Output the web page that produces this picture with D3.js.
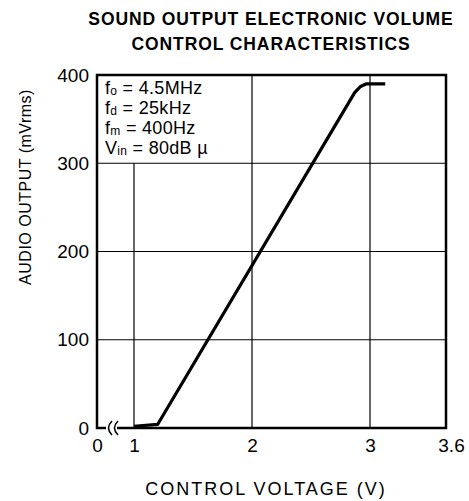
<!DOCTYPE html>
<html>
<head>
<meta charset="utf-8">
<script src="https://cdn.jsdelivr.net/npm/d3@7"></script>
<style>
  body { margin: 0; background: #fff; }
  svg { display: block; }
  text { font-family: "Liberation Sans", Arial, sans-serif; fill: #000; }
</style>
</head>
<body>
<svg width="469" height="501"></svg>
<script>
// Chart data
var titleLines = ["SOUND OUTPUT ELECTRONIC VOLUME", "CONTROL CHARACTERISTICS"],
	xTicks = [0, 1, 2, 3, 3.6],
	yTicks = [0, 100, 200, 300, 400],
	curveV = [1.0, 1.2, 2.87, 2.92, 2.97, 3.12],
	curveMv = [2, 4, 380, 387, 390, 390];

var legendRows = [
	{main: "f", sub: "o", rest: " = 4.5MHz"},
	{main: "f", sub: "d", rest: " = 25kHz"},
	{main: "f", sub: "m", rest: " = 400Hz"},
	{main: "V", sub: "in", rest: " = 80dB \u00b5"}
];

var font = "Liberation Sans, Arial, sans-serif";
var svg = d3.select("svg");

// Scales (x axis has a break between 0 and 1)
var x = d3.scaleLinear().domain([0, 1, 3, 3.6]).range([97, 134, 370, 446]),
	y = d3.scaleLinear().domain([0, 400]).range([428, 75]);

// Title
svg.selectAll(".title")
	.data(titleLines).enter()
	.append("text")
	.attr("class", "title")
	.attr("x", 271)
	.attr("y", function(d, i) { return 25 + i * 25; })
	.attr("text-anchor", "middle")
	.attr("font-family", font)
	.attr("font-size", 17.5)
	.attr("font-weight", "bold")
	.attr("letter-spacing", 0.9)
	.text(function(d) { return d; });

// Grid lines
var grid = svg.append("g").attr("stroke", "#000").attr("stroke-width", 1.2);

grid.selectAll(".hgrid")
	.data([100, 200, 300]).enter()
	.append("line")
	.attr("x1", x(0)).attr("x2", x(3.6))
	.attr("y1", function(d) { return y(d); })
	.attr("y2", function(d) { return y(d); });

grid.selectAll(".vgrid")
	.data([1, 2, 3]).enter()
	.append("line")
	.attr("x1", function(d) { return x(d); })
	.attr("x2", function(d) { return x(d); })
	.attr("y1", y(0))
	.attr("y2", function(d) { return d == 1 ? y(300) : y(400); });

// Legend text in the top left cell
var legend = svg.append("g");
legendRows.forEach(function(r, i) {
	var t = legend.append("text")
		.attr("x", 105)
		.attr("y", 94 + i * 20)
		.attr("font-family", font)
		.attr("font-size", 18)
		.attr("letter-spacing", 0.3);
	t.append("tspan").text(r.main);
	t.append("tspan").attr("font-size", 12).attr("dy", 1).text(r.sub);
	t.append("tspan").attr("dy", -1).text(r.rest);
});

// Curve
var line = d3.line()
	.x(function(d) { return x(d[0]); })
	.y(function(d) { return y(d[1]); });

svg.append("path")
	.datum(d3.zip(curveV, curveMv))
	.attr("d", line)
	.attr("fill", "none")
	.attr("stroke", "#000")
	.attr("stroke-width", 3.2)
	.attr("stroke-linejoin", "round");

// Frame
svg.append("rect")
	.attr("x", x(0)).attr("y", y(400))
	.attr("width", x(3.6) - x(0))
	.attr("height", y(0) - y(400))
	.attr("fill", "none")
	.attr("stroke", "#000")
	.attr("stroke-width", 2.5);

// Axis break marks
svg.append("rect")
	.attr("x", 106).attr("y", y(0) - 3)
	.attr("width", 11).attr("height", 6)
	.attr("fill", "#fff");
[107, 113].forEach(function(bx) {
	svg.append("path")
		.attr("d", "M" + (bx + 5) + "," + (y(0) - 7) + " Q" + (bx - 2) + "," + y(0) + " " + (bx + 5) + "," + (y(0) + 7))
		.attr("fill", "none")
		.attr("stroke", "#000")
		.attr("stroke-width", 1.5);
});

// Axes labels
var yAxis = svg.append("g")
	.attr("transform", "translate(" + x(0) + ",0)")
	.call(d3.axisLeft(y).tickValues(yTicks).tickSize(0).tickPadding(8));
yAxis.select(".domain").remove();
yAxis.selectAll("text")
	.attr("font-size", 19)
	.attr("font-family", font)
	.attr("fill", "#000");

var xAxis = svg.append("g")
	.attr("transform", "translate(0," + y(0) + ")")
	.call(d3.axisBottom(x).tickValues(xTicks).tickSize(0).tickPadding(11)
		.tickFormat(function(d) { return d == 3.6 ? "3.6" : d3.format("d")(d); }));
xAxis.select(".domain").remove();
xAxis.selectAll("text")
	.attr("font-size", 19)
	.attr("font-family", font)
	.attr("fill", "#000");
xAxis.selectAll(".tick").filter(function(d) { return d == 3.6; })
	.select("text").attr("dx", 5);

// Axis titles
svg.append("text")
	.attr("x", 266)
	.attr("y", 495)
	.attr("text-anchor", "middle")
	.attr("font-family", font)
	.attr("font-size", 18)
	.attr("letter-spacing", 2)
	.text("CONTROL VOLTAGE (V)");

svg.append("text")
	.attr("transform", "translate(31,187) rotate(-90)")
	.attr("text-anchor", "middle")
	.attr("font-family", font)
	.attr("font-size", 16)
	.attr("letter-spacing", 0.5)
	.text("AUDIO OUTPUT (mVrms)");
</script>
</body>
</html>
